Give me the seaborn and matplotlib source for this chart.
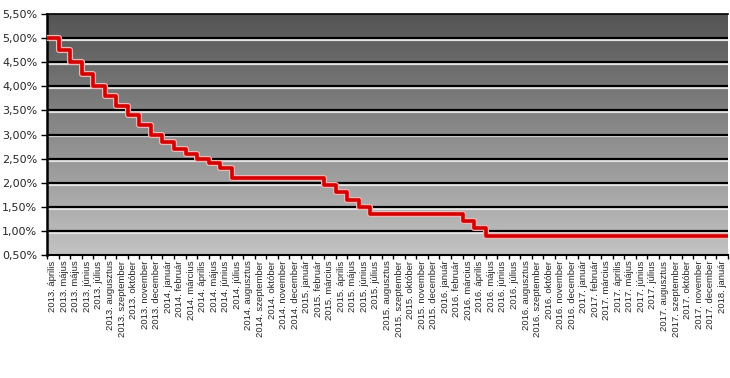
import numpy as np
import pandas as pd
import matplotlib
matplotlib.use('Agg')
import matplotlib.pyplot as plt
import matplotlib.patheffects as pe
from matplotlib.colors import LinearSegmentedColormap
import seaborn as sns

months = [
    "2013. április", "2013. május", "2013. május", "2013. június", "2013. július",
    "2013. augusztus", "2013. szeptember", "2013. október", "2013. november", "2013. december",
    "2014. január", "2014. február", "2014. március", "2014. április", "2014. május",
    "2014. június", "2014. július", "2014. augusztus", "2014. szeptember", "2014. október",
    "2014. november", "2014. december",
    "2015. január", "2015. február", "2015. március", "2015. április", "2015. május",
    "2015. június", "2015. július", "2015. augusztus", "2015. szeptember", "2015. október",
    "2015. november", "2015. december",
    "2016. január", "2016. február", "2016. március", "2016. április", "2016. május",
    "2016. június", "2016. július", "2016. augusztus", "2016. szeptember", "2016. október",
    "2016. november", "2016. december",
    "2017. január", "2017. február", "2017. március", "2017. április", "2017. május",
    "2017. június", "2017. július", "2017. augusztus", "2017. szeptember", "2017. október",
    "2017. november", "2017. december",
    "2018. január",
]

rates = [
    5.00, 4.75, 4.50, 4.25, 4.00, 3.80, 3.60, 3.40, 3.20, 3.00,
    2.85, 2.70, 2.60, 2.50, 2.40, 2.30, 2.10, 2.10, 2.10, 2.10, 2.10, 2.10,
    2.10, 2.10, 1.95, 1.80, 1.65, 1.50, 1.35, 1.35, 1.35, 1.35, 1.35, 1.35,
    1.35, 1.35, 1.20, 1.05, 0.90, 0.90, 0.90, 0.90, 0.90, 0.90, 0.90, 0.90,
    0.90, 0.90, 0.90, 0.90, 0.90, 0.90, 0.90, 0.90, 0.90, 0.90, 0.90, 0.90,
    0.90,
]

y_ticks = [0.5, 1.0, 1.5, 2.0, 2.5, 3.0, 3.5, 4.0, 4.5, 5.0, 5.5]

sns.set_style('white')
plt.rcParams['font.family'] = ['DejaVu Sans']

fig = plt.figure(figsize=(7.3, 3.78), dpi=100)
ax = fig.add_axes([47 / 730, 1 - 255 / 378, (728 - 47) / 730, 241 / 378])

n = len(months)
df = pd.DataFrame({'pos': list(range(n)) + [n], 'rate': rates + [rates[-1]]})

# gradient background
cmap = LinearSegmentedColormap.from_list('bg', ['#545454', '#c3c3c3'])
ax.imshow(np.linspace(0, 1, 256).reshape(-1, 1), extent=[0, 1, 0, 1],
          transform=ax.transAxes, aspect='auto', cmap=cmap, zorder=0)

# grid lines with light underline
for v in y_ticks[1:-1]:
    ax.axhline(v, color='black', lw=1.6, zorder=2,
               path_effects=[pe.SimpleLineShadow(offset=(0, -1.4), shadow_color='#e4e4e4',
                                                 alpha=1, rho=1), pe.Normal()])

sns.lineplot(data=df, x='pos', y='rate', drawstyle='steps-post', color='#d40000',
             lw=2.6, ax=ax, zorder=5,
             path_effects=[pe.Stroke(linewidth=4.4, foreground='#f0b4b4'), pe.Normal()])

ax.set_xlim(0, n)
ax.set_ylim(0.5, 5.5)
ax.set_xlabel('')
ax.set_ylabel('')

ax.set_yticks(y_ticks)
ax.set_yticklabels([f"{v:.2f}%".replace('.', ',') for v in y_ticks], fontsize=8)
ax.tick_params(axis='y', which='major', length=4, width=1, color='black', pad=3, left=True)

ax.set_xticks(range(n + 1))
ax.set_xticklabels([])
ax.tick_params(axis='x', which='major', length=3, width=1, color='black', bottom=True)
ax.set_xticks([i + 0.5 for i in range(n)], minor=True)
ax.set_xticklabels(months, minor=True, rotation=90, fontsize=6.8,
                   family=['Liberation Sans', 'DejaVu Sans'])
ax.tick_params(axis='x', which='minor', length=0, pad=4)

for s in ['left', 'bottom', 'top']:
    ax.spines[s].set_visible(True)
    ax.spines[s].set_color('black')
ax.spines['left'].set_linewidth(1.8)
ax.spines['bottom'].set_linewidth(1.5)
ax.spines['top'].set_linewidth(1.2)
ax.spines['right'].set_visible(False)

fig.savefig('out.png', dpi=100)
